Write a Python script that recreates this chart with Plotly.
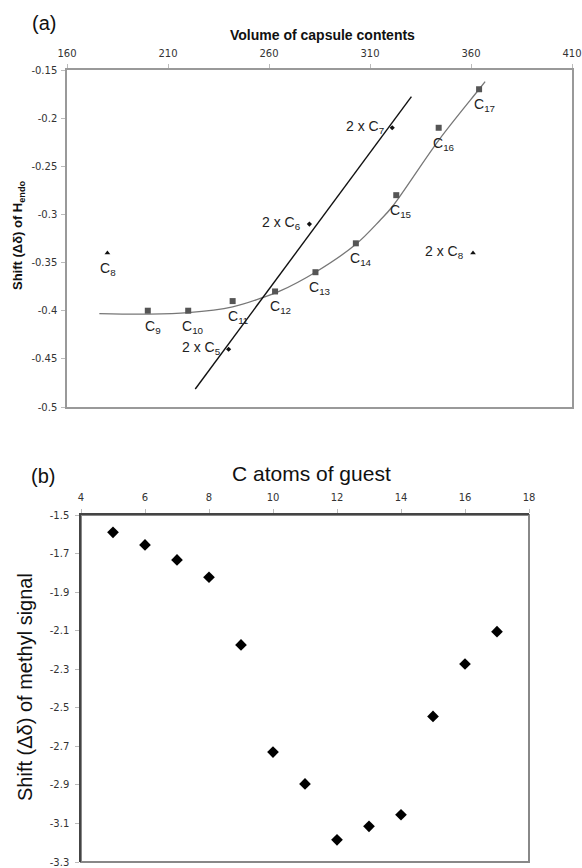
import numpy as np
import plotly.graph_objects as go

# ---------------- Panel (a) data ----------------
sq_vol = [200, 220, 242, 263, 283, 303, 323, 344, 364]
sq_shift = [-0.40, -0.40, -0.39, -0.38, -0.36, -0.33, -0.28, -0.21, -0.17]
sq_labels = ["C<sub>9</sub>", "C<sub>10</sub>", "C<sub>11</sub>", "C<sub>12</sub>", "C<sub>13</sub>",
             "C<sub>14</sub>", "C<sub>15</sub>", "C<sub>16</sub>", "C<sub>17</sub>"]

dm_vol = [240, 280, 321]
dm_shift = [-0.44, -0.31, -0.21]
dm_labels = ["2 x C<sub>5</sub>", "2 x C<sub>6</sub>", "2 x C<sub>7</sub>"]

tr_vol = [180, 361]
tr_shift = [-0.34, -0.34]
tr_labels = ["C<sub>8</sub>", "2 x C<sub>8</sub>"]

# curved trendline through the single-guest series
curve_vol = [176, 200, 220, 242, 256, 265, 283, 303, 315, 321, 344, 364, 367]
curve_shift = [-0.403, -0.4035, -0.402, -0.396, -0.387, -0.380, -0.360, -0.331, -0.306,
               -0.292, -0.223, -0.170, -0.162]

lin_span = [223.5, 330.5]     # extent of linear trendline for the 2 x C series

xa_ticks = [160, 210, 260, 310, 360, 410]
ya_ticks = [-0.5, -0.45, -0.4, -0.35, -0.3, -0.25, -0.2, -0.15]

# ---------------- Panel (b) data ----------------
c_atoms = [5, 6, 7, 8, 9, 10, 11, 12, 13, 14, 15, 16, 17]
methyl_shift = [-1.59, -1.655, -1.733, -1.823, -2.174, -2.73, -2.895, -3.185, -3.115, -3.055,
                -2.545, -2.273, -2.105]
xb_ticks = [4, 6, 8, 10, 12, 14, 16, 18]
yb_ticks = [-3.3, -3.1, -2.9, -2.7, -2.5, -2.3, -2.1, -1.9, -1.7, -1.5]

W, H = 582, 868
LAB = "Liberation Sans, Arial, sans-serif"
TICK = "DejaVu Sans, Verdana, sans-serif"
LABFONT = dict(family=LAB, size=14, color="#222222")

fig = go.Figure()

fig.add_trace(go.Scatter(x=curve_vol, y=curve_shift, mode="lines",
                         line=dict(color="#777777", width=1.3, shape="spline", smoothing=1.0),
                         xaxis="x", yaxis="y", hoverinfo="skip"))
l = np.polyfit(dm_vol, dm_shift, 1)
lx = np.array(lin_span)
fig.add_trace(go.Scatter(x=lx, y=np.polyval(l, lx), mode="lines",
                         line=dict(color="#111111", width=1.4), xaxis="x", yaxis="y",
                         hoverinfo="skip"))

fig.add_trace(go.Scatter(x=sq_vol, y=sq_shift, mode="markers",
                         marker=dict(symbol="square", size=6, color="#555555"),
                         xaxis="x", yaxis="y"))
fig.add_trace(go.Scatter(x=dm_vol, y=dm_shift, mode="markers",
                         marker=dict(symbol="diamond", size=4, color="#111111"),
                         xaxis="x", yaxis="y"))
fig.add_trace(go.Scatter(x=tr_vol, y=tr_shift, mode="markers",
                         marker=dict(symbol="triangle-up", size=5, color="#111111"),
                         xaxis="x", yaxis="y"))

fig.add_trace(go.Scatter(x=c_atoms, y=methyl_shift, mode="markers",
                         marker=dict(symbol="diamond", size=9, color="#000000"),
                         xaxis="x2", yaxis="y2"))

# point labels, attached to the data points
for xv, yv, t in zip(sq_vol, sq_shift, sq_labels):
    fig.add_annotation(x=xv, y=yv, xref="x", yref="y", text=t, showarrow=False,
                       xanchor="center", yanchor="middle", xshift=5, yshift=-16, font=LABFONT)
for xv, yv, t in zip(dm_vol, dm_shift, dm_labels):
    fig.add_annotation(x=xv, y=yv, xref="x", yref="y", text=t, showarrow=False,
                       xanchor="right", yanchor="middle", xshift=-6, yshift=1, font=LABFONT)
fig.add_annotation(x=tr_vol[0], y=tr_shift[0], xref="x", yref="y", text=tr_labels[0],
                   showarrow=False, xanchor="center", yanchor="middle", xshift=1, yshift=-16,
                   font=LABFONT)
fig.add_annotation(x=tr_vol[1], y=tr_shift[1], xref="x", yref="y", text=tr_labels[1],
                   showarrow=False, xanchor="right", yanchor="middle", xshift=-7, yshift=1,
                   font=LABFONT)

def px_x(p):
    return p / W

def px_y(p):
    return 1 - p / H

tickfont = dict(family=TICK, size=10, color="#333333")
common = dict(tickfont=tickfont, showgrid=False, zeroline=False, automargin=False,
              ticks="outside", ticklen=4, tickcolor="#bbbbbb")

fig.update_layout(
    template="none",
    width=W, height=H, margin=dict(l=0, r=0, t=0, b=0, pad=0),
    paper_bgcolor="white", plot_bgcolor="white", showlegend=False,
    xaxis=dict(domain=[px_x(67), px_x(572)], range=[160, 410], side="top",
               tickvals=xa_ticks, showline=True, linecolor="#999999", linewidth=1.5,
               mirror=True, anchor="y", ticklabelstandoff=3, **common),
    yaxis=dict(domain=[px_y(407), px_y(70)], range=[-0.5, -0.15],
               tickvals=ya_ticks, ticktext=[("%g" % v) for v in ya_ticks],
               showline=True, linecolor="#999999", linewidth=1.5, mirror=True,
               anchor="x", ticklabelstandoff=2, **common),
    xaxis2=dict(domain=[px_x(81), px_x(529)], range=[4, 18], side="top",
                tickvals=xb_ticks, showline=True, linecolor="#444444", linewidth=1.5,
                anchor="y2", ticklabelstandoff=4, **common),
    yaxis2=dict(domain=[px_y(862), px_y(515)], range=[-3.3, -1.5],
                tickvals=yb_ticks, ticktext=[("%g" % v) for v in yb_ticks],
                showline=True, linecolor="#444444", linewidth=1.5,
                anchor="x2", ticklabelstandoff=4, **common),
)

# right/bottom border of panel (b)
fig.add_shape(type="rect", xref="x2 domain", yref="y2 domain", x0=0, x1=1, y0=0, y1=1,
              line=dict(color="#888888", width=2), layer="below")

ann = [
    dict(text="(a)", x=px_x(30), y=px_y(23), xanchor="left", yanchor="middle",
         font=dict(family=LAB, size=20, color="#111111")),
    dict(text="(b)", x=px_x(29), y=px_y(476), xanchor="left", yanchor="middle",
         font=dict(family=LAB, size=20, color="#111111")),
    dict(text="<b>Volume of capsule contents</b>", x=px_x(322), y=px_y(35),
         xanchor="center", yanchor="middle", font=dict(family=LAB, size=14, color="#111111")),
    dict(text="<b>Shift (Δδ) of H<sub>endo</sub></b>", x=px_x(18), y=px_y(236), textangle=-90,
         xanchor="center", yanchor="middle", font=dict(family=LAB, size=13, color="#111111")),
    dict(text="C atoms of guest", x=px_x(311), y=px_y(473),
         xanchor="center", yanchor="middle", font=dict(family=LAB, size=21, color="#111111")),
    dict(text="Shift (Δδ) of methyl signal", x=px_x(25), y=px_y(687), textangle=-90,
         xanchor="center", yanchor="middle", font=dict(family=LAB, size=20, color="#111111")),
]
for a in ann:
    a.update(xref="paper", yref="paper", showarrow=False)
    fig.add_annotation(**a)

fig.write_html("out.html", config={"displayModeBar": False},
               post_script="document.body.style.margin='0px';"
                           "document.body.style.overflow='hidden';")
